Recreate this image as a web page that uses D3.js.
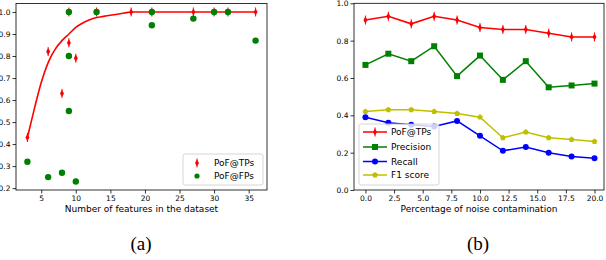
<!DOCTYPE html>
<html><head><meta charset="utf-8">
<script src="https://cdn.jsdelivr.net/npm/d3@7"></script>
<style>
body{margin:0;background:#fff;}
svg text{font-family:"DejaVu Sans",sans-serif;}
svg text.cap{font-family:"Liberation Serif","Times New Roman",serif;}
</style></head>
<body><svg id="c" width="606" height="260"></svg>
<script>
// ---- Panel (a) data ----
const tpX = [3,6,8,9,9,10,13,18,21,27,30,32,36];
const tpY = [0.43,0.82,0.63,0.86,1.0,0.79,1.0,1.0,1.0,1.0,1.0,1.0,1.0];
const fpX = [3,6,8,9,9,9,10,13,21,21,27,30,32,36];
const fpY = [0.32,0.25,0.27,1.0,0.80,0.55,0.23,1.0,1.0,0.94,0.97,1.0,1.0,0.87];
const fitX = [3,4,5,6,7,8,9,10,11,12,13,14,15,16,17,18,36];
const fitY = [0.43,0.56,0.68,0.77,0.83,0.87,0.90,0.93,0.95,0.965,0.975,0.98,0.985,0.99,0.995,1.0,1.0];
const aXTicks = [5,10,15,20,25,30,35];
const aYTicks = [0.2,0.3,0.4,0.5,0.6,0.7,0.8,0.9,1.0];
// ---- Panel (b) data ----
const noise = [0,2,4,6,8,10,12,14,16,18,20];
const pofTP = [0.91,0.93,0.89,0.93,0.91,0.87,0.86,0.86,0.84,0.82,0.82];
const precision = [0.67,0.73,0.69,0.77,0.61,0.72,0.59,0.69,0.55,0.56,0.57];
const recall = [0.39,0.36,0.35,0.34,0.37,0.29,0.21,0.23,0.20,0.18,0.17];
const f1 = [0.42,0.43,0.43,0.42,0.41,0.39,0.28,0.31,0.28,0.27,0.26];
const bXTicks = [0,2.5,5,7.5,10,12.5,15,17.5,20];
const bYTicks = [0,0.2,0.4,0.6,0.8,1.0];

const svg = d3.select("#c");
const RED="#ff0000", GREEN="#008000", BLUE="#0000ff", YEL="#bfbf00";

function diamond(g, x, y, color){
  g.append("path").attr("d",`M${x},${y-3.6}L${x+2},${y}L${x},${y+3.6}L${x-2},${y}Z`).attr("fill",color);
}
function pentagon(g, x, y, color, r){
  const pts = d3.range(5).map(k=>{const a=-Math.PI/2+k*2*Math.PI/5; return [x+r*Math.cos(a), y+r*Math.sin(a)];});
  g.append("path").attr("d","M"+pts.map(p=>p.join(",")).join("L")+"Z").attr("fill",color);
}
function styleAxis(ax){
  ax.selectAll("text").attr("font-size","7.5px").attr("fill","#000");
  ax.selectAll("line").attr("stroke","#000").attr("stroke-width",0.8);
  ax.select(".domain").remove();
}

// ===== Panel (a) =====
const ax = d3.scaleLinear().domain([1.35,37.65]).range([16,267]);
const ay = d3.scaleLinear().domain([0.1915,1.0385]).range([190,3.5]);
const ga = svg.append("g");
const axB = ga.append("g").attr("transform","translate(0,190)")
  .call(d3.axisBottom(ax).tickValues(aXTicks).tickSize(3.5).tickPadding(2).tickFormat(d3.format("d")));
styleAxis(axB);
const axL = ga.append("g").attr("transform","translate(16,0)")
  .call(d3.axisLeft(ay).tickValues(aYTicks).tickSize(3.5).tickPadding(2).tickFormat(d3.format(".1f")));
styleAxis(axL);
ga.append("path").datum(fitX.map((x,i)=>[x,fitY[i]]))
  .attr("d",d3.line().x(d=>ax(d[0])).y(d=>ay(d[1])).curve(d3.curveMonotoneX))
  .attr("fill","none").attr("stroke",RED).attr("stroke-width",1.6);
tpX.forEach((x,i)=>{
  const px=ax(x), py=ay(tpY[i]);
  ga.append("line").attr("x1",px).attr("x2",px).attr("y1",py-4.5).attr("y2",py+4.5).attr("stroke",RED).attr("stroke-width",1);
  diamond(ga,px,py,RED);
});
fpX.forEach((x,i)=>{
  ga.append("circle").attr("cx",ax(x)).attr("cy",ay(fpY[i])).attr("r",3.2).attr("fill",GREEN);
});
ga.append("rect").attr("x",16).attr("y",3.5).attr("width",251).attr("height",186.5)
  .attr("fill","none").attr("stroke","#000").attr("stroke-width",0.8);
const la = ga.append("g");
la.append("rect").attr("x",183).attr("y",154).attr("width",80).attr("height",31).attr("rx",2)
  .attr("fill","#fff").attr("fill-opacity",0.8).attr("stroke","#ccc").attr("stroke-width",0.8);
la.append("line").attr("x1",197).attr("x2",197).attr("y1",163-4.5).attr("y2",163+4.5).attr("stroke",RED);
diamond(la,197,163,RED);
la.append("circle").attr("cx",197).attr("cy",176).attr("r",2.6).attr("fill",GREEN);
la.append("text").attr("x",214).attr("y",166.3).attr("font-size","9px").text("PoF@TPs");
la.append("text").attr("x",214).attr("y",179.3).attr("font-size","9px").text("PoF@FPs");
ga.append("text").attr("x",141.5).attr("y",212).attr("text-anchor","middle").attr("font-size","9px").text("Number of features in the dataset");

// ===== Panel (b) =====
const bx = d3.scaleLinear().domain([-1,20.83]).range([354,604]);
const by = d3.scaleLinear().domain([0,1]).range([190,3.3]);
const gb = svg.append("g");
const bxB = gb.append("g").attr("transform","translate(0,190)")
  .call(d3.axisBottom(bx).tickValues(bXTicks).tickSize(3.5).tickPadding(2).tickFormat(d3.format(".1f")));
styleAxis(bxB);
const bxL = gb.append("g").attr("transform","translate(354,0)")
  .call(d3.axisLeft(by).tickValues(bYTicks).tickSize(3.5).tickPadding(2).tickFormat(d3.format(".1f")));
styleAxis(bxL);
const line = d3.line().x((d,i)=>bx(noise[i])).y(d=>by(d));
function markerAt(g, kind, x, y, color){
  if(kind==="d"){
    g.append("line").attr("x1",x).attr("x2",x).attr("y1",y-4.5).attr("y2",y+4.5).attr("stroke",color);
    diamond(g,x,y,color);
  } else if(kind==="s"){
    g.append("rect").attr("x",x-3).attr("y",y-3).attr("width",6).attr("height",6).attr("fill",color);
  } else if(kind==="o"){
    g.append("circle").attr("cx",x).attr("cy",y).attr("r",3).attr("fill",color);
  } else {
    pentagon(g,x,y,color,3);
  }
}
const series = [
  {name:"PoF@TPs", vals:pofTP, color:RED, m:"d"},
  {name:"Precision", vals:precision, color:GREEN, m:"s"},
  {name:"Recall", vals:recall, color:BLUE, m:"o"},
  {name:"F1 score", vals:f1, color:YEL, m:"p"}
];
series.forEach(s=>{
  gb.append("path").datum(s.vals).attr("d",line).attr("fill","none").attr("stroke",s.color).attr("stroke-width",1.5);
  s.vals.forEach((v,i)=>markerAt(gb,s.m,bx(noise[i]),by(v),s.color));
});
gb.append("rect").attr("x",354).attr("y",3.3).attr("width",250).attr("height",186.7)
  .attr("fill","none").attr("stroke","#000").attr("stroke-width",0.8);
const lb = gb.append("g");
lb.append("rect").attr("x",359).attr("y",124).attr("width",80).attr("height",61).attr("rx",2)
  .attr("fill","#fff").attr("fill-opacity",0.8).attr("stroke","#ccc").attr("stroke-width",0.8);
const ly=[132,147,161.5,175];
series.forEach((s,i)=>{
  lb.append("line").attr("x1",363).attr("x2",387).attr("y1",ly[i]).attr("y2",ly[i]).attr("stroke",s.color).attr("stroke-width",1.5);
  markerAt(lb,s.m,375,ly[i],s.color);
  lb.append("text").attr("x",391).attr("y",ly[i]+3.3).attr("font-size","9px").text(s.name);
});
gb.append("text").attr("x",479).attr("y",212).attr("text-anchor","middle").attr("font-size","9px").text("Percentage of noise contamination");

svg.append("text").attr("class","cap").attr("x",141).attr("y",250).attr("text-anchor","middle")
  .attr("font-size","19px").text("(a)");
svg.append("text").attr("class","cap").attr("x",478).attr("y",250).attr("text-anchor","middle")
  .attr("font-size","19px").text("(b)");
</script></body></html>
